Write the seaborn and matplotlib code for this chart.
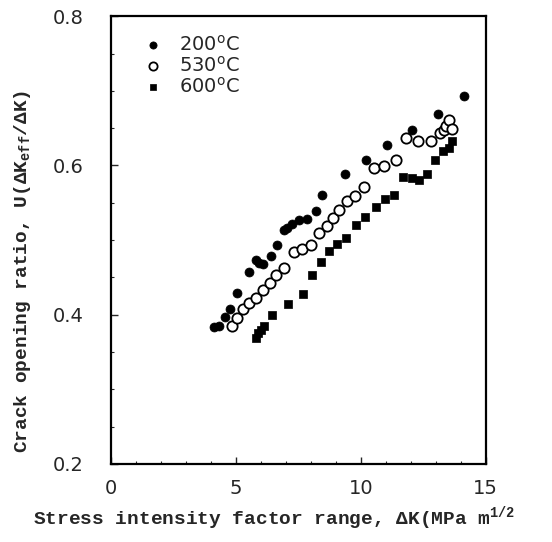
import numpy as np
import pandas as pd
import matplotlib
matplotlib.use("Agg")
import matplotlib.pyplot as plt
import seaborn as sns

# ---- data ----
dk_200 = [4.12, 4.32, 4.56, 4.76, 5.04, 5.52, 5.80, 5.92, 6.08, 6.40, 6.64, 6.92,
          7.04, 7.24, 7.52, 7.84, 8.20, 8.44, 9.36, 10.2, 11.04, 12.04, 13.08, 14.12]
u_200 = [0.383, 0.385, 0.397, 0.408, 0.429, 0.457, 0.473, 0.469, 0.468, 0.479, 0.493, 0.513,
         0.516, 0.521, 0.527, 0.528, 0.539, 0.560, 0.588, 0.608, 0.628, 0.648, 0.669, 0.693]

dk_530 = [4.84, 5.04, 5.28, 5.52, 5.80, 6.08, 6.36, 6.60, 6.92, 7.32, 7.64, 8.00, 8.32,
          8.64, 8.88, 9.12, 9.44, 9.76, 10.12, 10.52, 10.92, 11.40, 11.80, 12.28, 12.80,
          13.16, 13.32, 13.40, 13.52, 13.64]
u_530 = [0.385, 0.395, 0.408, 0.416, 0.423, 0.433, 0.443, 0.453, 0.463, 0.484, 0.488, 0.493,
         0.509, 0.519, 0.529, 0.540, 0.552, 0.559, 0.571, 0.596, 0.599, 0.608, 0.637, 0.633,
         0.633, 0.643, 0.648, 0.653, 0.661, 0.649]

dk_600 = [5.80, 5.88, 6.00, 6.12, 6.44, 7.08, 7.68, 8.04, 8.40, 8.72, 9.04, 9.40, 9.80,
          10.16, 10.60, 10.96, 11.32, 11.68, 12.04, 12.32, 12.64, 12.96, 13.28, 13.52, 13.64]
u_600 = [0.369, 0.375, 0.380, 0.385, 0.399, 0.415, 0.428, 0.453, 0.471, 0.485, 0.495, 0.503,
         0.520, 0.531, 0.544, 0.555, 0.560, 0.585, 0.583, 0.580, 0.589, 0.608, 0.619, 0.623,
         0.633]

labels = ["200$^{\\mathregular{o}}$C", "530$^{\\mathregular{o}}$C", "600$^{\\mathregular{o}}$C"]
x_ticks = [0, 5, 10, 15]
y_ticks = [0.2, 0.4, 0.6, 0.8]

df = pd.concat([
    pd.DataFrame({"dk": dk_200, "u": u_200, "series": labels[0]}),
    pd.DataFrame({"dk": dk_530, "u": u_530, "series": labels[1]}),
    pd.DataFrame({"dk": dk_600, "u": u_600, "series": labels[2]}),
])

sns.set_style("ticks")
plt.rcParams["font.family"] = ["DejaVu Sans"]

fig = plt.figure(figsize=(5.52, 5.42), dpi=100)
ax = fig.add_axes([0.201, 0.144, 0.679, 0.826])

styles = {
    labels[0]: dict(marker="o", s=42, color="black", edgecolor="black", linewidth=0.5),
    labels[1]: dict(marker="o", s=55, facecolor="white", edgecolor="black", linewidth=1.3),
    labels[2]: dict(marker="s", s=36, color="black", edgecolor="black", linewidth=0.5),
}
for lab in labels:
    sns.scatterplot(data=df[df["series"] == lab], x="dk", y="u", ax=ax,
                    label=lab, zorder=3, **styles[lab])

ax.set_xlim(0, 15)
ax.set_ylim(0.2, 0.8)
ax.set_xticks(x_ticks)
ax.set_yticks(y_ticks)
ax.set_xticklabels([str(t) for t in x_ticks])
ax.set_yticklabels([f"{t:.1f}" for t in y_ticks])
ax.set_xticks(np.arange(0, 15.1, 1), minor=True)
ax.set_yticks(np.arange(0.2, 0.81, 0.05), minor=True)
ax.tick_params(axis="x", which="major", pad=11)
ax.tick_params(axis="y", which="major", pad=20)
ax.tick_params(axis="both", which="major", direction="in", length=5, width=1,
               labelsize=14, top=False, right=False)
ax.tick_params(axis="both", which="minor", direction="in", length=2, width=0.8,
               top=False, right=False)
for sp in ax.spines.values():
    sp.set_visible(True)
    sp.set_linewidth(1.6)
    sp.set_color("black")

ax.set_xlabel("")
ax.set_ylabel("")

fig.text(0.040, 0.50, "Crack opening ratio, U(\u0394K$_{\\mathregular{eff}}$/\u0394K)",
         rotation=90, ha="center", va="center",
         family="Liberation Mono", weight="bold", fontsize=14)
fig.text(0.06, 0.043, "Stress intensity factor range, \u0394K(MPa m$^{\\mathregular{1/2}}$",
         ha="left", va="center",
         family="Liberation Mono", weight="bold", fontsize=14)

leg = ax.legend(loc="upper left", bbox_to_anchor=(0.025, 0.99), frameon=False,
                fontsize=14, handletextpad=0.3, labelspacing=0.05,
                borderaxespad=0.3, markerscale=0.8)

fig.savefig("out.png", dpi=100)
